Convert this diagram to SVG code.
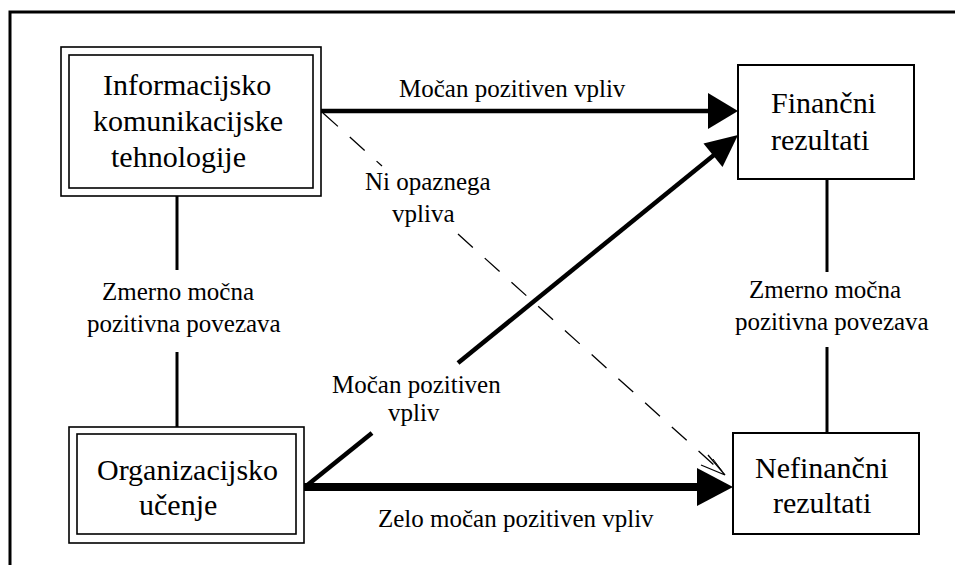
<svg xmlns="http://www.w3.org/2000/svg" width="955" height="565" viewBox="0 0 955 565">
<style>
  .box{fill:#fff;stroke:#000;stroke-width:1.6}
  .sbox{fill:#fff;stroke:#000;stroke-width:2}
  .node{font-family:'Liberation Serif','Times New Roman',serif;font-size:30px;fill:#000}
  .lbl{font-family:'Liberation Serif','Times New Roman',serif;font-size:25px;fill:#000}
  .thin{stroke:#000;stroke-width:3;fill:none}
  .mid{stroke:#000;stroke-width:4.5;fill:none}
  .thick{stroke:#000;stroke-width:8;fill:none}
  .dash{stroke:#000;stroke-width:1.3;fill:none;stroke-dasharray:20 16}
  .head{fill:#000;stroke:none}
</style>
<rect x="0" y="0" width="955" height="565" fill="#fff"/>
<rect id="frame" x="10" y="12" width="1000" height="600" fill="none" stroke="#000" stroke-width="3"/>

<g id="connectors">
  <line class="thin" x1="177" y1="196" x2="177" y2="270"/>
  <line class="thin" x1="177" y1="352" x2="177" y2="427"/>
  <line class="thin" x1="827" y1="179" x2="827" y2="272"/>
  <line class="thin" x1="827" y1="347" x2="827" y2="433"/>
  <line class="mid" x1="321" y1="111" x2="712" y2="111"/>
  <polygon class="head" points="708,93 738,111 708,129"/>
  <line class="mid" x1="305" y1="487" x2="372" y2="433"/>
  <line class="mid" x1="458" y1="363" x2="714" y2="155"/>
  <polygon class="head" points="738,135 722.5,167 703.5,143.5"/>
  <line class="thick" x1="304" y1="487" x2="700" y2="487"/>
  <polygon class="head" points="697,468 733,487 697,506"/>
  <line class="dash" x1="323" y1="113" x2="382" y2="166"/>
  <line class="dash" x1="458" y1="234" x2="724" y2="474"/>
  <polyline points="708,455 725,475 701,465" fill="none" stroke="#000" stroke-width="1.3"/>
  <line x1="713" y1="459" x2="722" y2="471" stroke="#000" stroke-width="1"/>
  <text class="lbl" x="399" y="97">Močan pozitiven vpliv</text>
  <text class="lbl" x="365" y="190">Ni opaznega</text>
  <text class="lbl" x="392" y="222">vpliva</text>
  <text class="lbl" x="102" y="300">Zmerno močna</text>
  <text class="lbl" x="87" y="332">pozitivna povezava</text>
  <text class="lbl" x="749" y="298">Zmerno močna</text>
  <text class="lbl" x="735" y="330">pozitivna povezava</text>
  <text class="lbl" x="332" y="393">Močan pozitiven</text>
  <text class="lbl" x="388" y="421">vpliv</text>
  <text class="lbl" x="378" y="527">Zelo močan pozitiven vpliv</text>
</g>

<g id="ict">
  <rect class="box" x="61" y="47" width="260" height="149"/>
  <rect class="box" x="69" y="55" width="244" height="133"/>
  <text class="node" x="103" y="95">Informacijsko</text>
  <text class="node" x="93" y="131">komunikacijske</text>
  <text class="node" x="111" y="167">tehnologije</text>
</g>

<g id="org">
  <rect class="box" x="69" y="427" width="235" height="116"/>
  <rect class="box" x="77" y="434" width="219" height="100"/>
  <text class="node" x="97" y="480">Organizacijsko</text>
  <text class="node" x="139" y="515">učenje</text>
</g>

<g id="fin">
  <rect class="sbox" x="738" y="65" width="176" height="114"/>
  <text class="node" x="771" y="113">Finančni</text>
  <text class="node" x="771" y="150">rezultati</text>
</g>

<g id="nonfin">
  <rect class="sbox" x="733" y="433" width="186" height="101"/>
  <text class="node" x="755" y="478">Nefinančni</text>
  <text class="node" x="773" y="513">rezultati</text>
</g>
</svg>
